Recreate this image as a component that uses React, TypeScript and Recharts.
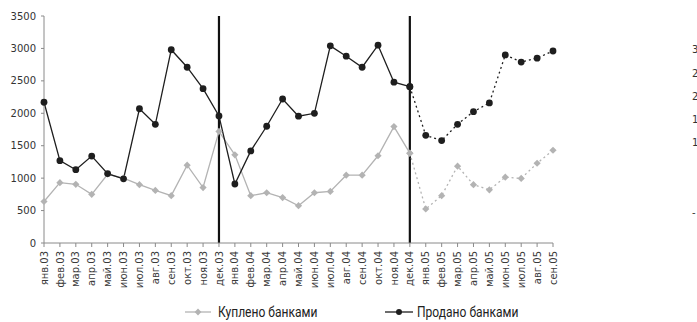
import React from 'react';
import { LineChart, Line, XAxis, YAxis, ReferenceLine, Legend } from 'recharts';

const categories = [
  'янв.03', 'фев.03', 'мар.03', 'апр.03', 'май.03', 'июн.03', 'июл.03', 'авг.03', 'сен.03', 'окт.03', 'ноя.03', 'дек.03',
  'янв.04', 'фев.04', 'мар.04', 'апр.04', 'май.04', 'июн.04', 'июл.04', 'авг.04', 'сен.04', 'окт.04', 'ноя.04', 'дек.04',
  'янв.05', 'фев.05', 'мар.05', 'апр.05', 'май.05', 'июн.05', 'июл.05', 'авг.05', 'сен.05',
];

const bought = [
  640, 930, 905, 750, 1060, 1000, 900, 810, 730, 1200, 855, 1720,
  1360, 730, 775, 700, 575, 775, 795, 1045, 1045, 1345, 1795, 1385,
  525, 730, 1185, 900, 820, 1015, 995, 1230, 1430,
];

const sold = [
  2170, 1270, 1130, 1340, 1070, 990, 2070, 1830, 2980, 2710, 2380, 1960,
  910, 1420, 1800, 2220, 1955, 2000, 3040, 2880, 2710, 3050, 2480, 2410,
  1660, 1580, 1830, 2025, 2160, 2900, 2790, 2850, 2960,
];

const yTicks = [0, 500, 1000, 1500, 2000, 2500, 3000, 3500];
const dividers = ['дек.03', 'дек.04'];
const forecastStart = 23;
const rightTicks = [0, 3, 4, 5, 6, 7];
const rightLabels = ['-', '1', '1', '2', '2', '3'];
const seriesNames = ['Куплено банками', 'Продано банками'];

const data = categories.map((cat, i) => ({
  cat,
  boughtSolid: i <= forecastStart ? bought[i] : null,
  boughtDash: i >= forecastStart ? bought[i] : null,
  soldSolid: i <= forecastStart ? sold[i] : null,
  soldDash: i >= forecastStart ? sold[i] : null,
}));

const GRAY = '#b3b3b3';
const DARK = '#1e1e1e';
const AXIS = '#8a8a8a';
const FONT = '"DejaVu Sans", Verdana, sans-serif';
const LEGEND_FONT = 'Roboto, sans-serif';

const Diamond = (props: any) => {
  const { cx, cy, value } = props;
  if (cx == null || cy == null || value == null) return <g key={props.key} />;
  const r = 3.6;
  return (
    <path
      key={props.key}
      d={`M${cx},${cy - r}L${cx + r},${cy}L${cx},${cy + r}L${cx - r},${cy}Z`}
      fill={GRAY}
    />
  );
};

const Circle = (props: any) => {
  const { cx, cy, value } = props;
  if (cx == null || cy == null || value == null) return <g key={props.key} />;
  return <circle key={props.key} cx={cx} cy={cy} r={3.4} fill={DARK} />;
};

const XTick = (props: any) => {
  const { x, y, payload } = props;
  return (
    <g transform={`translate(${x},${y})`}>
      <text transform="rotate(-90)" textAnchor="end" dy="0.36em" fontSize={10} fontFamily={FONT} fill="#3a3a3a">
        {payload.value}
      </text>
    </g>
  );
};

const labelStyle: React.CSSProperties = {
  display: 'inline-block',
  transform: 'scaleX(0.86)',
  transformOrigin: 'left center',
  whiteSpace: 'nowrap',
};

const LegendContent = () => (
  <div style={{ position: 'relative', width: 697, height: 22, fontFamily: LEGEND_FONT, fontSize: 14, color: '#222' }}>
    <div style={{ position: 'absolute', left: 185, top: 4, display: 'flex', alignItems: 'center', lineHeight: '16px' }}>
      <svg width={26} height={10} style={{ marginRight: 7 }}>
        <line x1={0} y1={5} x2={26} y2={5} stroke={GRAY} strokeWidth={1.3} />
        <path d="M13,1.6L16.4,5L13,8.4L9.6,5Z" fill={GRAY} />
      </svg>
      <span style={labelStyle}>{seriesNames[0]}</span>
    </div>
    <div style={{ position: 'absolute', left: 385, top: 4, display: 'flex', alignItems: 'center', lineHeight: '16px' }}>
      <svg width={28} height={10} style={{ marginRight: 4 }}>
        <line x1={0} y1={5} x2={28} y2={5} stroke={DARK} strokeWidth={1.3} />
        <circle cx={14} cy={5} r={3} fill={DARK} />
      </svg>
      <span style={labelStyle}>{seriesNames[1]}</span>
    </div>
  </div>
);

export default function App() {
  return (
    <div style={{ position: 'absolute', left: 0, top: 0, width: 697, height: 322, background: '#fff' }}>
      <LineChart width={697} height={322} data={data} margin={{ top: 16, right: 0, left: 0, bottom: 0 }}>
        <XAxis
          dataKey="cat"
          scale="point"
          padding={{ left: 0, right: 0 }}
          interval={0}
          height={57}
          tick={<XTick />}
          tickSize={4}
          tickMargin={4}
          stroke={AXIS}
          tickLine={{ stroke: AXIS }}
        />
        <YAxis
          yAxisId="left"
          domain={[0, 3500]}
          ticks={yTicks}
          width={44}
          tickSize={3}
          tickMargin={5}
          stroke={AXIS}
          tick={{ fontSize: 10, fontFamily: FONT, fill: '#333' }}
          interval={0}
        />
        <YAxis
          yAxisId="right"
          orientation="right"
          domain={[-1.3, 8.45]}
          allowDataOverflow
          ticks={rightTicks}
          width={144}
          tickSize={0}
          tickMargin={139}
          axisLine={false}
          tickLine={false}
          interval={0}
          tickFormatter={(v: number) => rightLabels[rightTicks.indexOf(v)] ?? ''}
          tick={{ fontSize: 10, fontFamily: FONT, fill: '#333' }}
        />
        {dividers.map((d) => (
          <ReferenceLine key={d} yAxisId="left" x={d} stroke="#111" strokeWidth={2.2} ifOverflow="extendDomain" />
        ))}
        <Line
          yAxisId="left"
          dataKey="boughtSolid"
          name={seriesNames[0]}
          stroke={GRAY}
          strokeWidth={1.3}
          dot={Diamond}
          activeDot={false}
          connectNulls={false}
          isAnimationActive={false}
        />
        <Line
          yAxisId="left"
          dataKey="boughtDash"
          legendType="none"
          stroke={GRAY}
          strokeWidth={1.3}
          strokeDasharray="2 3"
          dot={Diamond}
          activeDot={false}
          isAnimationActive={false}
        />
        <Line
          yAxisId="left"
          dataKey="soldSolid"
          name={seriesNames[1]}
          stroke={DARK}
          strokeWidth={1.3}
          dot={Circle}
          activeDot={false}
          isAnimationActive={false}
        />
        <Line
          yAxisId="left"
          dataKey="soldDash"
          legendType="none"
          stroke={DARK}
          strokeWidth={1.3}
          strokeDasharray="2 3"
          dot={Circle}
          activeDot={false}
          isAnimationActive={false}
        />
        <Legend verticalAlign="bottom" height={22} content={<LegendContent />} wrapperStyle={{ left: 0, width: 697 }} />
      </LineChart>
    </div>
  );
}
